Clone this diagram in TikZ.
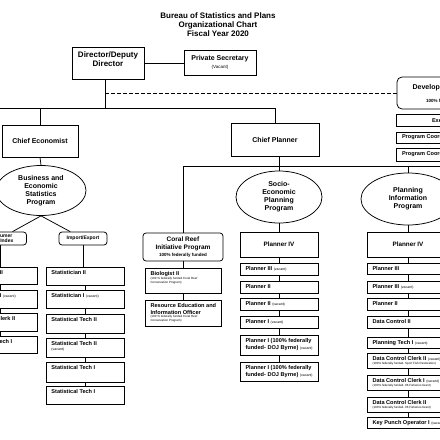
\documentclass[tikz,border=0pt]{standalone}
\usepackage{fontspec}
\setmainfont{Liberation Sans}
\usetikzlibrary{shapes.geometric}
\newcommand\myfs[2]{\fontsize{#1}{#2}\selectfont}
\newcommand\vacnt{{\mdseries\myfs{3.5}{4}(vacant)}}
\newcommand\fedtxt[1]{{\mdseries\myfs{3}{3.5}#1}}
\begin{document}
\begin{tikzpicture}[x=1pt,y=-1pt, line width=0.75pt,
  bx/.style={draw, rectangle, inner sep=0pt, align=center, font=\bfseries\myfs{5.6}{6.2}},
  rbx/.style={bx, rounded corners=3pt},
  lbl/.style={anchor=north west, inner xsep=5.5pt, inner ysep=3.8pt, align=left, font=\bfseries\myfs{5.6}{6.2}},
  tl/.style={label={[lbl]north west:#1}},
  lblw/.style={anchor=west, inner ysep=0pt, align=left, font=\bfseries\myfs{5.6}{6.2}},
  el/.style={draw, ellipse, inner sep=0pt, align=center, font=\bfseries\myfs{7}{8}},
  big/.style={font=\bfseries\myfs{7}{8}},
  pl/.style={font=\bfseries\myfs{6.3}{7}}]
\useasboundingbox (0,0) rectangle (440,440);
\clip (0,0) rectangle (440,440);

% title
\node[font=\bfseries\myfs{8}{9}, align=center] (title) at (218,25) {Bureau of Statistics and Plans\\Organizational Chart\\Fiscal Year 2020};

% top level
\node[bx, minimum width=72, minimum height=32,
  label={[anchor=north, align=center, inner ysep=4.3pt, font=\bfseries\myfs{8}{9}]north:Director/Deputy\\Director}] (dir) at (108,63) {};
\node[bx, big, minimum width=72, minimum height=25] (ps) at (220,62.5) {Private Secretary\\[0.5pt]{\mdseries\myfs{4.5}{5}(Vacant)}};
\node[rbx, rounded corners=5pt, minimum width=106, minimum height=32,
  label={[anchor=north, inner ysep=7.4pt, big]north:Development Program},
  label={[anchor=south, inner ysep=5.4pt, font=\bfseries\myfs{4.5}{5}]south:100\% federally funded}] (dev) at (450,93) {};
\node[bx, minimum width=90, minimum height=12, label={[lblw, inner xsep=36pt]west:Executive Assistant}] (ex) at (441,120) {};
\node[bx, minimum width=90, minimum height=11, label={[lblw, inner xsep=6pt]west:Program Coordinator}] (pc1) at (441,137.5) {};
\node[bx, minimum width=90, minimum height=13, label={[lblw, inner xsep=6pt]west:Program Coordinator}] (pc2) at (441,154.5) {};

% second level
\node[bx, big, minimum width=76, minimum height=32] (ce) at (40,141) {Chief Economist};
\node[bx, big, minimum width=88, minimum height=33] (cp) at (275,139.5) {Chief Planner};

% programs
\node[el, minimum width=90, minimum height=50] (bes) at (41,190.5) {Business and\\Economic\\Statistics\\Program};
\node[el, minimum width=86, minimum height=52] (sep) at (279,197) {Socio-\\Economic\\Planning\\Program};
\node[el, minimum width=94, minimum height=52] (pip) at (408,199) {Planning\\Information\\Program};

\node[rbx, font=\bfseries\myfs{5}{5.5}, minimum width=53, minimum height=13] (cpi) at (0,238.5) {Consumer\\Price Index};
\node[rbx, font=\bfseries\myfs{5}{5.5}, minimum width=48, minimum height=13] (ie) at (83,238.5) {Import/Export};
\node[rbx, font=\bfseries\myfs{6.5}{7.5}, minimum width=80, minimum height=28] (cr) at (183,247) {Coral Reef\\Initiative Program\\[-0.5pt]{\myfs{4.5}{5}100\% federally funded}};

% CPI column
\node[bx, minimum width=74, minimum height=17, tl={Statistician II}] (c1) at (0,275.5) {};
\node[bx, minimum width=74, minimum height=18, tl={Statistician I \vacnt}] (c2) at (0,299) {};
\node[bx, minimum width=74, minimum height=18, tl={Statistical Clerk II}] (c3) at (0,322) {};
\node[bx, minimum width=74, minimum height=17, tl={Statistical Tech I}] (c4) at (0,344.5) {};

% Import/Export column
\node[bx, minimum width=78, minimum height=18, tl={Statistician II}] (s1) at (85,276) {};
\node[bx, minimum width=78, minimum height=18, tl={Statistician I \vacnt}] (s2) at (85,299) {};
\node[bx, minimum width=78, minimum height=19, tl={Statistical Tech II}] (s3) at (85,323.5) {};
\node[bx, minimum width=78, minimum height=19, tl={Statistical Tech II\\[-2pt]\vacnt}] (s4) at (85,347.5) {};
\node[bx, minimum width=78, minimum height=20, tl={Statistical Tech I}] (s5) at (85,372) {};
\node[bx, minimum width=78, minimum height=18, tl={Statistical Tech I}] (s6) at (85,395) {};

% Coral reef column
\node[bx, minimum width=76, minimum height=25, tl={Biologist II\\[-2.5pt]\fedtxt{(100 \% federally funded Coral Reef}\\[-2.6pt]\fedtxt{Conservation Program)}}] (bio) at (183,280.5) {};
\node[bx, minimum width=76, minimum height=26, tl={Resource Education and\\Information Officer\\[-2.5pt]\fedtxt{(100 \% federally funded Coral Reef}\\[-2.6pt]\fedtxt{Conservation Program)}}] (reo) at (183,313) {};

% Socio-economic column
\node[bx, pl, minimum width=78, minimum height=25] (p4) at (279,244.5) {Planner IV};
\node[bx, minimum width=78, minimum height=12, tl={Planner III \vacnt}] (p3v) at (279,269) {};
\node[bx, minimum width=78, minimum height=12, tl={Planner II}] (p2) at (279,287) {};
\node[bx, minimum width=78, minimum height=12, tl={Planner II \vacnt}] (p2v) at (279,304) {};
\node[bx, minimum width=78, minimum height=12, tl={Planner I \vacnt}] (p1v) at (279,322) {};
\node[bx, minimum width=78, minimum height=20, tl={Planner I (100\% federally\\funded- DOJ Byrne) \vacnt}] (p1a) at (279,345) {};
\node[bx, minimum width=78, minimum height=19, tl={Planner I (100\% federally\\funded- DOJ Byrne) \vacnt}] (p1b) at (279,371.5) {};

% Planning information column
\node[bx, pl, minimum width=82, minimum height=25] (q4) at (408,244.5) {Planner IV};
\node[bx, minimum width=82, minimum height=11, tl={Planner III}] (q3) at (408,268.5) {};
\node[bx, minimum width=82, minimum height=12, tl={Planner III \vacnt}] (q3v) at (408,287) {};
\node[bx, minimum width=82, minimum height=12, tl={Planner II}] (q2) at (408,304) {};
\node[bx, minimum width=82, minimum height=12, tl={Data Control II}] (qdc) at (408,322) {};
\node[bx, minimum width=82, minimum height=11, tl={Planning Tech I \vacnt}] (qpt) at (408,342.5) {};
\node[bx, minimum width=82, minimum height=15, tl={Data Control Clerk II \vacnt\\[-2.5pt]\fedtxt{(100\% federally funded- Sport Fish Restoration)}}] (qc1) at (408,360.5) {};
\node[bx, minimum width=82, minimum height=15, tl={Data Control Clerk I \vacnt\\[-2.5pt]\fedtxt{(100\% federally funded- 06 Fisheries Grant)}}] (qc2) at (408,382.5) {};
\node[bx, minimum width=82, minimum height=15, tl={Data Control Clerk II\\[-2.5pt]\fedtxt{(100\% federally funded- 06 Fisheries Grant)}}] (qc3) at (408,404.5) {};
\node[bx, minimum width=82, minimum height=11, tl={Key Punch Operator I \vacnt}] (qkp) at (408,422.5) {};

% connectors
\coordinate (jl) at (-10,108);
\coordinate (jr) at (275,108);
\coordinate (jv) at (105,108);
\coordinate (jd) at (105,93);
\coordinate (h1) at (183,166);
\coordinate (h2) at (450,166);

\draw (dir.east) -- (dir.east -| ps.west);
\draw (jv |- dir.south) -- (jv);
\draw[dash pattern=on 3.5pt off 2.5pt] (jd) -- (jd -| dev.west);
\draw (jl) -- (jr) -- (jr |- cp.north);
\draw (ce.north) -- (ce.north |- jl);
\draw (ce.south) -- (bes.north);
\draw (bes.south) -- (cpi);
\draw (bes.south) -- (ie);
\draw (sep.north |- cp.south) -- (sep.north);
\draw (h1 |- cr.north) -- (h1) -- (h2);
\draw (pip.north |- h1) -- (pip.north);
\draw (ie.south) -- (ie.south |- s1.north);
\foreach \a/\b in {cpi/c1, c1/c2, c2/c3, c3/c4,
                   s1/s2, s2/s3, s3/s4, s4/s5, s5/s6,
                   cr/bio, bio/reo,
                   sep/p4, p4/p3v, p3v/p2, p2/p2v, p2v/p1v, p1v/p1a, p1a/p1b,
                   pip/q4, q4/q3, q3/q3v, q3v/q2, q2/qdc, qdc/qpt, qpt/qc1, qc1/qc2, qc2/qc3, qc3/qkp}
  \draw (\a.south) -- (\b.north);
\end{tikzpicture}
\end{document}
